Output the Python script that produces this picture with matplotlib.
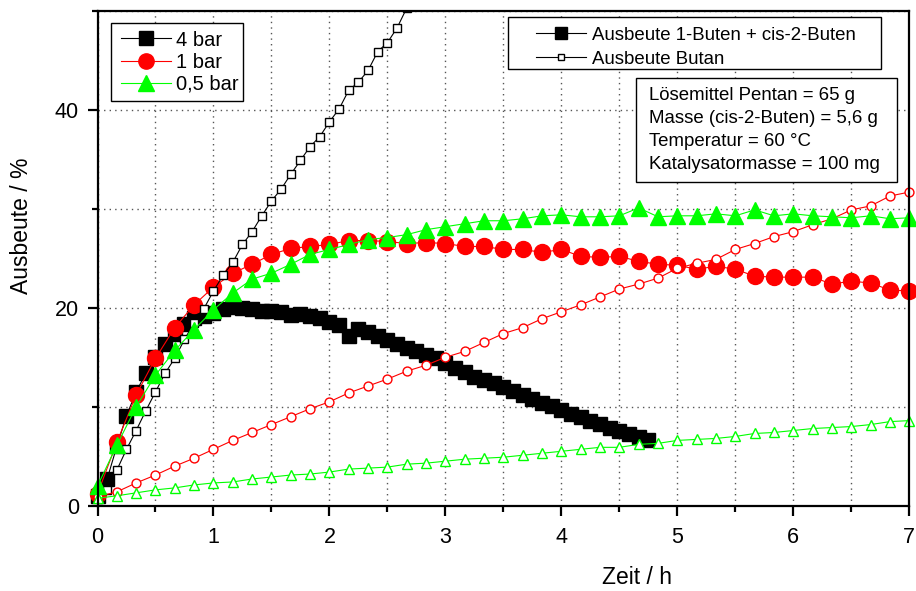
import numpy as np
import matplotlib
matplotlib.use("Agg")
import matplotlib.pyplot as plt
from matplotlib.lines import Line2D
from matplotlib.patches import Rectangle
from matplotlib.ticker import MultipleLocator

plt.rcParams['font.family'] = ['Liberation Sans', 'DejaVu Sans']

# Sampling times in hours: 5-min steps at 4 bar, 10-min steps at 1 and 0.5 bar
t_4bar = np.arange(58) * 5 / 60
t_low = np.arange(43) * 10 / 60

# 4 bar: yield of 1-butene + cis-2-butene and yield of butane (%)
buten_4bar = [1.0, 2.7, 6.0, 9.1, 11.5, 13.4, 15.0, 16.3, 17.4, 18.4, 19.0, 19.2,
              19.5, 19.9, 20.1, 20.0, 19.9, 19.7, 19.7, 19.6, 19.3, 19.4, 19.2, 19.0,
              18.6, 18.3, 17.2, 17.9, 17.6, 17.2, 16.7, 16.3, 15.9, 15.6, 15.2, 14.9,
              14.4, 13.9, 13.5, 13.0, 12.7, 12.4, 12.0, 11.6, 11.2, 10.8, 10.4, 10.1,
              9.7, 9.3, 9.0, 8.6, 8.3, 7.9, 7.5, 7.2, 6.9, 6.6]
butan_4bar = [0.7, 1.6, 3.6, 5.7, 7.6, 9.6, 11.5, 13.4, 14.9, 16.8, 18.5, 19.9,
              21.7, 23.3, 24.6, 26.4, 27.7, 29.3, 30.8, 32.0, 33.5, 34.9, 36.3, 37.3,
              38.8, 40.1, 42.0, 42.8, 44.0, 45.9, 46.8, 48.3, 50.3]

# 1 bar
buten_1bar = [1.2, 6.4, 11.2, 14.9, 18.0, 20.3,
              22.1, 23.5, 24.4, 25.4, 26.0, 26.2,
              26.4, 26.8, 26.8, 26.7, 26.5, 26.6,
              26.5, 26.2, 26.2, 25.9, 25.9, 25.6,
              25.9, 25.2, 25.1, 25.2, 24.7, 24.4,
              24.3, 23.9, 24.2, 23.9, 23.2, 23.1,
              23.1, 23.1, 22.4, 22.7, 22.5, 21.8,
              21.7]
butan_1bar = [0.9, 1.4, 2.3, 3.1, 4.0, 4.8,
              5.7, 6.6, 7.4, 8.2, 9.0, 9.8,
              10.5, 11.4, 12.1, 12.8, 13.6, 14.2,
              15.0, 15.6, 16.5, 17.4, 18.0, 18.9,
              19.6, 20.3, 21.1, 21.9, 22.4, 23.0,
              24.0, 24.5, 24.9, 25.9, 26.5, 27.2,
              27.7, 28.4, 29.0, 29.9, 30.3, 31.3,
              31.7]

# 0.5 bar
buten_05bar = [2.0, 6.1, 10.0, 13.2, 15.7, 17.8,
               19.8, 21.5, 22.9, 23.5, 24.4, 25.4,
               25.9, 26.4, 26.9, 27.1, 27.4, 27.9,
               28.2, 28.5, 28.8, 28.8, 29.0, 29.3,
               29.4, 29.2, 29.2, 29.3, 30.1, 29.2,
               29.3, 29.3, 29.5, 29.3, 29.9, 29.3,
               29.5, 29.3, 29.2, 29.1, 29.3, 29.0,
               29.1]
butan_05bar = [0.75, 1.0, 1.3, 1.6, 1.8, 2.1,
               2.3, 2.4, 2.7, 2.9, 3.1, 3.2,
               3.4, 3.7, 3.8, 3.9, 4.2, 4.3,
               4.5, 4.7, 4.8, 4.9, 5.1, 5.3,
               5.5, 5.7, 5.9, 5.9, 6.2, 6.3,
               6.6, 6.7, 6.8, 7.0, 7.3, 7.4,
               7.6, 7.8, 7.9, 8.0, 8.2, 8.5,
               8.6]

pressure_labels = ['4 bar', '1 bar', '0,5 bar']
product_labels = ['Ausbeute 1-Buten + cis-2-Buten', 'Ausbeute Butan']
conditions = ['Lösemittel Pentan = 65 g',
              'Masse (cis-2-Buten) = 5,6 g',
              'Temperatur = 60 °C',
              'Katalysatormasse = 100 mg']

BLACK, RED, GREEN = '#000000', '#ff0000', '#00ff00'
W, H = 916, 591

fig = plt.figure(figsize=(W / 100, H / 100), dpi=100)
ax = fig.add_axes([97.5 / W, 1 - 505.7 / H, (909.3 - 97.5) / W, (505.7 - 11) / H])

lw = 0.8
ax.plot(t_4bar, buten_4bar, color=BLACK, lw=lw, marker='s', ms=9.5,
        mfc=BLACK, mec=BLACK, zorder=3, clip_on=False)
ax.plot(t_low, buten_1bar, color=RED, lw=lw, marker='o', ms=11.5,
        mfc=RED, mec=RED, zorder=4, clip_on=False)
ax.plot(t_4bar[:len(butan_4bar)], butan_4bar, color=BLACK, lw=lw, marker='s', ms=6.0,
        mfc='white', mec=BLACK, mew=1.0, zorder=5, clip_on=True)
ax.plot(t_low, butan_1bar, color=RED, lw=lw, marker='o', ms=6.4,
        mfc='white', mec=RED, mew=1.0, zorder=5, clip_on=False)
ax.plot(t_low, buten_05bar, color=GREEN, lw=lw, marker='^', ms=11.5,
        mfc=GREEN, mec=GREEN, zorder=6, clip_on=False)
ax.plot(t_low, butan_05bar, color=GREEN, lw=lw, marker='^', ms=7.2,
        mfc='white', mec=GREEN, mew=1.0, zorder=6, clip_on=False)

ax.set_xlim(0, 7)
ax.set_ylim(0, 50)
ax.xaxis.set_major_locator(MultipleLocator(1))
ax.xaxis.set_minor_locator(MultipleLocator(0.5))
ax.yaxis.set_major_locator(MultipleLocator(20))
ax.yaxis.set_minor_locator(MultipleLocator(10))

ax.grid(which='both', color='#555555', linestyle=(0, (1, 3)), linewidth=1.0, zorder=1)
ax.set_axisbelow(True)

for sp in ax.spines.values():
    sp.set_linewidth(1.6)
    sp.set_zorder(7)
ax.tick_params(which='major', direction='out', length=7.5, width=1.6,
               labelsize=15.5, pad=6)
ax.tick_params(which='minor', direction='out', length=4.5, width=1.6)
ax.tick_params(axis='x', which='major', pad=8)

ax.set_xlabel('Zeit / h', fontsize=16.5)
ax.xaxis.set_label_coords((637 - 97.5) / 811.8, (505.7 - 566) / 494.7)
ax.xaxis.label.set_va('top')
ax.set_ylabel('Ausbeute / %', fontsize=16.5)
ax.yaxis.set_label_coords((22 - 97.5) / 811.8, (505.7 - 226) / 494.7)
ax.yaxis.label.set_va('center')

# Pressure legend
h1 = [Line2D([], [], color=BLACK, lw=lw, marker='s', ms=9.5, mfc=BLACK, mec=BLACK),
      Line2D([], [], color=RED, lw=lw, marker='o', ms=11, mfc=RED, mec=RED),
      Line2D([], [], color=GREEN, lw=lw, marker='^', ms=11, mfc=GREEN, mec=GREEN)]
leg1 = fig.legend(h1, pressure_labels, loc='upper left',
                  bbox_to_anchor=(121 / W, 1 - 30.5 / H), frameon=False,
                  fontsize=14.5, handlelength=2.5, handletextpad=0.25,
                  labelspacing=0.16, borderpad=0, borderaxespad=0)
fig.add_artist(Rectangle((111 / W, 1 - 100.7 / H), (243.3 - 111) / W, (100.7 - 22.7) / H,
                         transform=fig.transFigure, fill=True, fc='white',
                         ec=BLACK, lw=1.0, zorder=8))
leg1.set_zorder(9)

# Product legend
h2 = [Line2D([], [], color=BLACK, lw=lw, marker='s', ms=8.5, mfc=BLACK, mec=BLACK),
      Line2D([], [], color=BLACK, lw=lw, marker='s', ms=4.5, mfc='white', mec=BLACK, mew=1.0)]
leg2 = fig.legend(h2, product_labels, loc='upper left',
                  bbox_to_anchor=(536 / W, 1 - 26.5 / H), frameon=False,
                  fontsize=13.4, handlelength=2.7, handletextpad=0.3,
                  labelspacing=0.4, borderpad=0, borderaxespad=0)
fig.add_artist(Rectangle((508.3 / W, 1 - 69.3 / H), (881 - 508.3) / W, (69.3 - 17.3) / H,
                         transform=fig.transFigure, fill=True, fc='white',
                         ec=BLACK, lw=1.0, zorder=8))
leg2.set_zorder(9)

# Reaction conditions
fig.add_artist(Rectangle((635.7 / W, 1 - 181.7 / H), (896.7 - 635.7) / W, (181.7 - 77.7) / H,
                         transform=fig.transFigure, fill=True, fc='white',
                         ec=BLACK, lw=1.0, zorder=8))
fig.text(649 / W, 1 - 87.5 / H, '\n'.join(conditions), fontsize=13.4,
         ha='left', va='top', linespacing=1.45, zorder=9)

fig.savefig('out.png', dpi=100)
